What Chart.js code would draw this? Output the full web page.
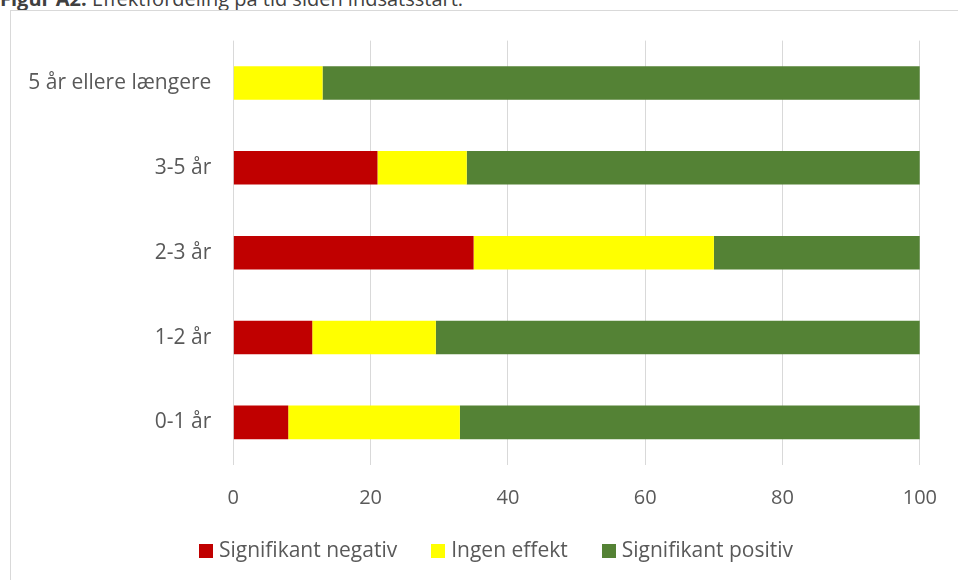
<!DOCTYPE html>
<html>
<head>
<meta charset="utf-8">
<script src="https://cdn.jsdelivr.net/npm/chart.js@4.4.0/dist/chart.umd.min.js"></script>
<style>
  html, body { margin: 0; padding: 0; background: #fff; overflow: hidden; }
  body { width: 958px; height: 580px; position: relative; font-family: "Open Sans", sans-serif; }
  #title { position: absolute; left: 0; top: -11px; font-size: 20px; line-height: 20px; color: #404040; white-space: nowrap; }
  #frame { position: absolute; left: 10px; top: 10px; width: 1000px; height: 600px; border: 1px solid #d9d9d9; box-sizing: border-box; }
  #wrap { position: absolute; left: 0; top: 0; width: 958px; height: 580px; }
  #legend { position: absolute; left: 0; width: 958px; top: 537px; text-align: center; font-size: 21px; line-height: 24px; color: #595959; padding-left: 34px; box-sizing: border-box; }
  #legend span.item { display: inline-block; margin: 0 17px; }
  #legend span.box { display: inline-block; width: 14px; height: 14px; margin-right: 6px; vertical-align: -1px; }
</style>
</head>
<body>
<div id="title"><b>Figur A2.</b> Effektfordeling på tid siden indsatsstart.</div>
<div id="frame"></div>
<div id="wrap"><canvas id="myChart" width="958" height="580"></canvas></div>
<div id="legend"></div>
<script>
// categories, top to bottom
const categories = ['5 år ellere længere', '3-5 år', '2-3 år', '1-2 år', '0-1 år'];
const negativ = [0, 21, 35, 11.5, 8];
const ingen = [13, 13, 35, 18, 25];
const positiv = [87, 66, 30, 70.5, 67];
const seriesNames = ['Signifikant negativ', 'Ingen effekt', 'Signifikant positiv'];
const xTicks = [0, 20, 40, 60, 80, 100];

const colors = ['#c00000', '#ffff00', '#548235'];

var ctx = document.getElementById('myChart').getContext('2d');
var chart = new Chart(ctx, {
    type: 'bar',
    data: {
        labels: categories,
        datasets: [
            { label: seriesNames[0], data: negativ, backgroundColor: colors[0] },
            { label: seriesNames[1], data: ingen, backgroundColor: colors[1] },
            { label: seriesNames[2], data: positiv, backgroundColor: colors[2] },
        ],
    },
    options: {
        responsive: false,
        animation: false,
        indexAxis: 'y',
        layout: { padding: { top: 40.6, right: 35, bottom: 0, left: 0 } },
        datasets: { bar: { categoryPercentage: 1, barPercentage: 0.395 } },
        plugins: {
            legend: { display: false },
            tooltip: { enabled: false },
        },
        scales: {
            x: {
                stacked: true,
                min: 0,
                max: 100,
                afterBuildTicks: (scale) => { scale.ticks = xTicks.map(v => ({ value: v })); },
                afterFit: (scale) => { scale.height = 115.2; },
                grid: { color: '#d9d9d9', drawTicks: false },
                border: { display: false },
                ticks: { padding: 21, color: '#595959', font: { family: 'Open Sans', size: 20 } },
            },
            y: {
                stacked: true,
                afterFit: (scale) => { scale.width = 233.3; },
                grid: { display: false, drawTicks: false },
                border: { display: false },
                ticks: { padding: 22, color: '#595959', font: { family: 'Open Sans', size: 21 } },
            },
        },
    },
});

// legend built from the chart's datasets
var legend = document.getElementById('legend');
chart.data.datasets.forEach(function (ds) {
    var item = document.createElement('span');
    item.className = 'item';
    var box = document.createElement('span');
    box.className = 'box';
    box.style.background = ds.backgroundColor;
    item.appendChild(box);
    item.appendChild(document.createTextNode(ds.label));
    legend.appendChild(item);
});
</script>
</body>
</html>
